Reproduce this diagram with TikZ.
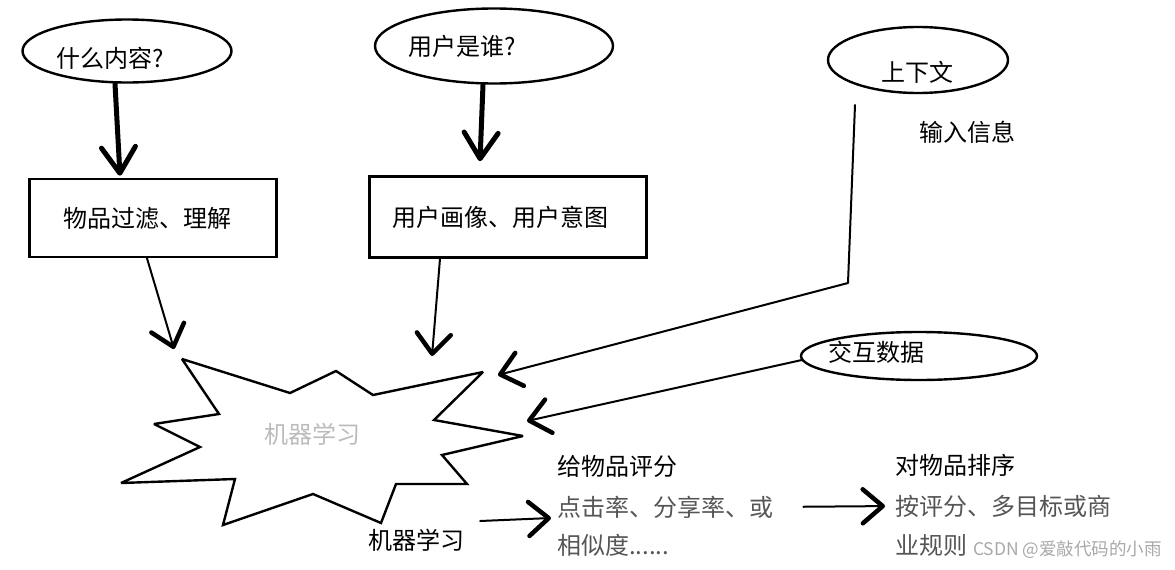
\documentclass[tikz,border=0pt]{standalone}
\usepackage{fontspec}
\usepackage{xcolor}
\usetikzlibrary{positioning,shapes.geometric,arrows.meta}
\newfontfamily\cjk{Noto Sans CJK SC}
\definecolor{inkgray}{HTML}{555555}
\definecolor{fadegray}{HTML}{BBBBBB}
\definecolor{markgray}{HTML}{A8A8A8}

\begin{document}
\begin{tikzpicture}[x=1pt,y=-1pt,
  txt/.style={font=\cjk\fontsize{24}{28}\selectfont,inner sep=0pt},
  oval/.style={ellipse,draw,line width=2.4pt,inner sep=0pt},
  box/.style={draw,line width=2.6pt,inner sep=0pt,font=\cjk\fontsize{24}{28}\selectfont},
  heavy/.style={line width=5pt,line cap=round,-{Straight Barb[round,length=26pt,width=34pt,line width=5pt]}},
  pen/.style={line width=2pt,line cap=round,line join=round,-{Straight Barb[round,length=20pt,width=34pt,line width=4.5pt]}}]
\useasboundingbox (0,0) rectangle (1175,570);
% questions
\node[oval,minimum width=209,minimum height=63] (what) at (127,51) {};
\node[txt] (whatq) at (110,58) {什么内容?};
\node[oval,minimum width=238,minimum height=75] (who) at (494,46) {};
\node[txt] (whoq) at (462,46) {用户是谁?};
\node[oval,minimum width=180,minimum height=66] (ctx) at (918,60) {};
\node[txt] (ctxq) at (917,72) {上下文};
\node[txt] (input) at (967,132) {输入信息};
\node[oval,minimum width=236,minimum height=48] (talk) at (919,356) {};
\node[txt] (talkq) at (876,352) {交互数据};
% boxes
\node[box,minimum width=247,minimum height=78] (item) at (153,218) {\hspace*{-12pt}物品过滤、理解};
\node[box,minimum width=277,minimum height=81] (profile) at (508,217) {\hspace*{-16pt}用户画像、用户意图};
% star
\draw[line width=2.4pt,line join=miter,miter limit=3] (182,359)--(290,393)--(336,371)--(373,395)--(483,372)--(434,420)--(523,436)--(442,455)--(467,484)--(396,484)--(381,523)--(313,494)--(223,525)--(235,479)--(121,483)--(200,447)--(154,424)--(219,414)--cycle;
\node[txt,text=fadegray] (mlfade) at (312,434) {机器学习};
\node[txt] (ml) at (416,540) {机器学习};
% outputs
\node[txt,anchor=west] (score) at (557,466) {给物品评分};
\node[txt,anchor=west,text=inkgray] (scoreA) at (557,507) {点击率、分享率、或};
\node[txt,anchor=west,text=inkgray] (scoreB) at (557,545) {相似度......};
\node[txt,anchor=west] (rank) at (895,465) {对物品排序};
\node[txt,anchor=west,text=inkgray] (rankA) at (895,506) {按评分、多目标或商};
\node[txt,anchor=west,text=inkgray] (rankB) at (895,545) {业规则};
\node[font=\cjk\fontsize{17.5}{21}\selectfont,text=markgray,inner sep=0pt,anchor=east] (mark) at (1162,550) {CSDN @爱敲代码的小雨};
% arrows
\coordinate (ctxstart) at (855,105);
\coordinate (bend) at (848,283);
\coordinate (ctxend) at (498,375);
\coordinate (talkend) at (527,421);
\coordinate (itemend) at (174,349);
\coordinate (profend) at (432,356);
\draw[heavy] ([xshift=-12pt]what.south) -- ([xshift=-33pt,yshift=2pt]item.north);
\draw[heavy] ([xshift=-11pt]who.south) -- ([xshift=-28pt,yshift=14pt]profile.north);
\draw[pen] ([xshift=-6pt]item.south) -- (itemend);
\draw[pen] ([xshift=-68pt]profile.south) -- (profend);
\draw[pen] (ctxstart) -- (bend) -- (ctxend);
\draw[pen] ([xshift=2pt,yshift=-4pt]talk.west) -- (talkend);
\draw[pen] ([xshift=16pt,yshift=19pt]ml.east) -- ([xshift=-6pt,yshift=-11pt]scoreA.west);
\draw[pen,shorten <=30pt,shorten >=10pt] (scoreA.east) -- (rankA.west);
\end{tikzpicture}
\end{document}
